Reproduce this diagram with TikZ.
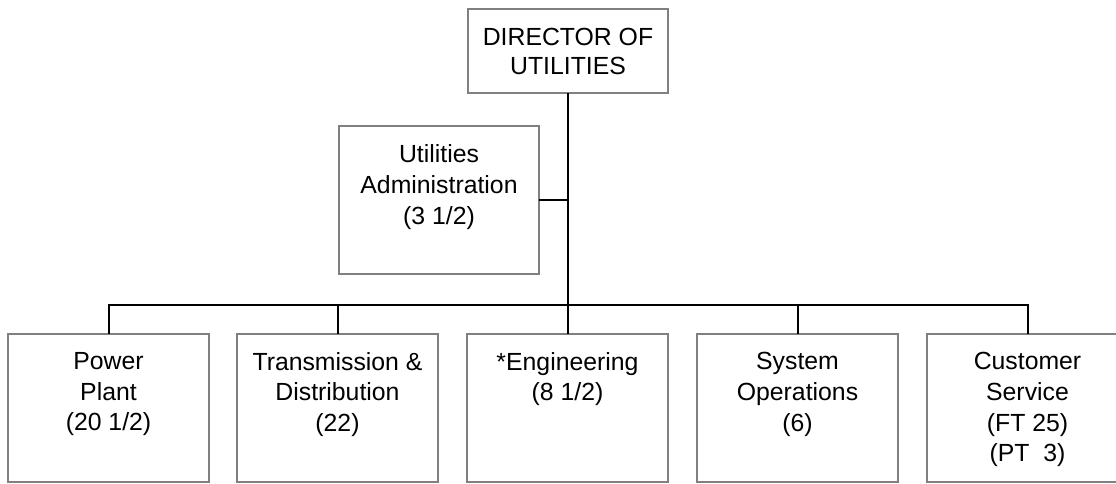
\documentclass[tikz,border=0pt]{standalone}
\usepackage{fontspec}
\setmainfont{Liberation Sans}
\definecolor{boxgray}{RGB}{128,128,128}
\begin{document}
\begin{tikzpicture}[x=1pt,y=-1pt,
  box/.style={draw=boxgray,line width=2pt,minimum width=200pt,inner sep=0pt,outer sep=0pt,anchor=north},
  unit/.style={box,minimum width=201pt,minimum height=147.5pt},
  txt/.style={font=\fontsize{24.8}{30.8}\selectfont,align=center,inner sep=0pt},
  toptxt/.style={txt,anchor=north},
  link/.style={line width=2pt,draw=black}]
\useasboundingbox (0,0) rectangle (1116,483);
\clip (0,0) rectangle (1116,483);

% director
\node[box,minimum height=84pt] (dir) at (568,9) {};
\node[txt,font=\fontsize{24.8}{29}\selectfont] (dirT) at (dir.center) {DIRECTOR OF\\UTILITIES};

% staff office
\node[box,minimum height=148pt] (admin) at (439,126) {};
\node[toptxt] (adminT) at ([yshift=-18.5pt]admin.north) {Utilities\\Administration\\(3 1/2)};

% divisions
\node[unit] (pp) at (108.5,334) {};
\node[unit] (td) at (337.5,334) {};
\node[unit] (eng) at (567.5,334) {};
\node[unit] (ops) at (797.5,334) {};
\node[unit] (cs) at (1027.5,334) {};
\node[toptxt] (ppT) at ([yshift=-18pt]pp.north) {Power\\Plant\\(20 1/2)};
\node[toptxt] (tdT) at ([yshift=-18pt]td.north) {Transmission \&\\Distribution\\(22)};
\node[toptxt] (engT) at ([yshift=-18pt]eng.north) {*Engineering\\(8 1/2)};
\node[toptxt] (opsT) at ([yshift=-18pt]ops.north) {System\\Operations\\(6)};
\node[toptxt] (csT) at ([yshift=-18pt]cs.north) {Customer\\Service\\(FT 25)\\(PT\ \ 3)};

% connectors
\coordinate (hub) at (567.5,305);
\draw[link] (dir.south -| hub) -- (hub);
\draw[link] (admin.east) -- (admin.east -| hub);
\draw[link] (pp.north) -- (pp.north |- hub) -- (cs.north |- hub) -- (cs.north);
\draw[link] (td.north) -- (td.north |- hub);
\draw[link] (eng.north) -- (eng.north |- hub);
\draw[link] (ops.north) -- (ops.north |- hub);
\end{tikzpicture}
\end{document}
